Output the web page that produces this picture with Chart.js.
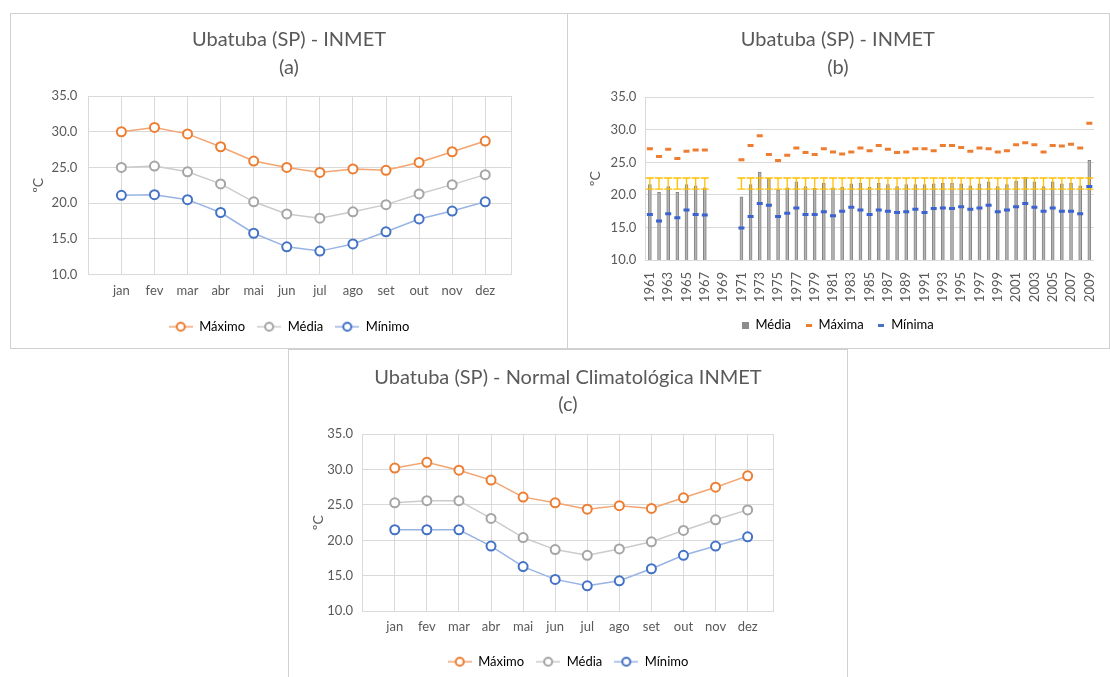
<!DOCTYPE html>
<html>
<head>
<meta charset="utf-8">
<script src="https://cdn.jsdelivr.net/npm/chart.js@4.4.1/dist/chart.umd.min.js"></script>
<style>
  html, body { margin: 0; padding: 0; background: #fff; overflow: hidden; }
  body { width: 1110px; height: 677px; position: relative; }
  .panel { position: absolute; border: 1px solid #d0d0d0; background: #fff; box-sizing: border-box; }
  canvas { display: block; }
</style>
</head>
<body>
<div class="panel" style="left:10px;top:13px;width:558px;height:336px"><canvas id="chartA" width="556" height="334"></canvas></div>
<div class="panel" style="left:567px;top:13px;width:543px;height:336px"><canvas id="chartB" width="541" height="334"></canvas></div>
<div class="panel" style="left:288px;top:349px;width:560px;height:340px"><canvas id="chartC" width="558" height="338"></canvas></div>
<script>
// months (charts a and c)
const months = ['jan', 'fev', 'mar', 'abr', 'mai', 'jun', 'jul', 'ago', 'set', 'out', 'nov', 'dez'];

// (a) Ubatuba (SP) - INMET
const maxA = [30.0, 30.6, 29.7, 27.9, 25.9, 25.0, 24.3, 24.8, 24.6, 25.7, 27.2, 28.7];
const medA = [25.0, 25.2, 24.4, 22.7, 20.2, 18.5, 17.9, 18.8, 19.8, 21.3, 22.6, 24.0];
const minA = [21.1, 21.2, 20.5, 18.7, 15.8, 13.9, 13.3, 14.3, 16.0, 17.8, 18.9, 20.2];

// (c) Normal Climatológica INMET
const maxC = [30.2, 31.0, 29.9, 28.5, 26.1, 25.3, 24.4, 24.9, 24.5, 26.0, 27.5, 29.1];
const medC = [25.3, 25.6, 25.6, 23.1, 20.4, 18.7, 17.9, 18.8, 19.8, 21.4, 22.9, 24.3];
const minC = [21.5, 21.5, 21.5, 19.2, 16.3, 14.5, 13.6, 14.3, 16.0, 17.9, 19.2, 20.5];

// (b) yearly series
const years = [1961, 1962, 1963, 1964, 1965, 1966, 1967, 1968, 1969, 1970,
  1971, 1972, 1973, 1974, 1975, 1976, 1977, 1978, 1979, 1980,
  1981, 1982, 1983, 1984, 1985, 1986, 1987, 1988, 1989, 1990,
  1991, 1992, 1993, 1994, 1995, 1996, 1997, 1998, 1999, 2000,
  2001, 2002, 2003, 2004, 2005, 2006, 2007, 2008, 2009];
const mediaB = [21.6, 20.4, 21.3, 20.4, 21.6, 21.4, 21.1, null, null, null,
  19.7, 21.6, 23.5, 22.5, 20.8, 21.1, 22.0, 21.3, 21.0, 21.8,
  21.1, 21.2, 21.7, 21.8, 21.2, 21.8, 21.6, 21.3, 21.6, 21.6,
  21.6, 21.7, 21.8, 21.8, 21.7, 21.4, 21.7, 22.0, 21.3, 21.6,
  22.1, 22.7, 22.0, 21.3, 22.0, 21.7, 21.8, 21.4, 25.3];
const maximaB = [27.1, 25.9, 27.0, 25.6, 26.7, 26.9, 26.9, null, null, null,
  25.4, 27.6, 29.1, 26.2, 25.3, 26.1, 27.2, 26.5, 26.2, 27.1,
  26.6, 26.3, 26.6, 27.2, 26.8, 27.6, 27.0, 26.5, 26.6, 27.1,
  27.1, 26.8, 27.6, 27.6, 27.3, 26.7, 27.2, 27.1, 26.6, 26.8,
  27.7, 28.0, 27.7, 26.6, 27.6, 27.5, 27.8, 27.2, 31.0];
const minimaB = [17.0, 16.0, 17.1, 16.5, 17.7, 17.0, 16.9, null, null, null,
  14.9, 16.7, 18.7, 18.4, 16.7, 17.2, 18.0, 17.0, 17.0, 17.4,
  16.8, 17.5, 18.1, 17.7, 17.0, 17.7, 17.5, 17.3, 17.4, 17.8,
  17.3, 17.9, 18.0, 17.9, 18.2, 17.8, 18.0, 18.4, 17.4, 17.7,
  18.2, 18.7, 18.1, 17.5, 18.0, 17.5, 17.5, 17.1, 21.3];
// yellow error bar range drawn on each Média bar
const errLow = 20.9;
const errHigh = 22.6;

// axis ticks
const yTicks = [10, 15, 20, 25, 30, 35];
const xTicksMonth = [0, 1, 2, 3, 4, 5, 6, 7, 8, 9, 10, 11, 12, 12.8];

const TXT = '#595959';
const GRID = '#d9d9d9';
Chart.defaults.font.family = 'Lato, sans-serif';
Chart.defaults.color = TXT;
Chart.defaults.animation = false;

// small legend symbols
function markerImg(lineColor, pointColor) {
    const c = document.createElement('canvas');
    c.width = 24; c.height = 12;
    const g = c.getContext('2d');
    g.strokeStyle = lineColor; g.lineWidth = 1.5;
    g.beginPath(); g.moveTo(0, 6); g.lineTo(24, 6); g.stroke();
    g.fillStyle = '#fff'; g.strokeStyle = pointColor; g.lineWidth = 2;
    g.beginPath(); g.arc(12, 6, 4, 0, Math.PI * 2); g.fill(); g.stroke();
    return c;
}
function boxImg(color, w, h) {
    const c = document.createElement('canvas');
    c.width = w; c.height = h;
    const g = c.getContext('2d');
    g.fillStyle = color;
    g.fillRect(0, 0, w, h);
    return c;
}

const colMax = { line: '#f3a571', point: '#ed7d31' };
const colMed = { line: '#cbcbcb', point: '#a5a5a5' };
const colMin = { line: '#98b4e4', point: '#4472c4' };

function lineSet(label, values, col) {
    return {
        label: label,
        data: values.map((v, i) => ({ x: i + 1, y: v })),
        borderColor: col.line,
        borderWidth: 1.5,
        pointRadius: 4.5,
        pointBorderWidth: 2,
        pointBorderColor: col.point,
        pointBackgroundColor: '#fff',
        tension: 0
    };
}

function monthChart(id, title, maxV, medV, minV, L) {
    const imgs = [markerImg(colMax.line, colMax.point), markerImg(colMed.line, colMed.point), markerImg(colMin.line, colMin.point)];
    new Chart(document.getElementById(id), {
        type: 'line',
        data: {
            datasets: [
                lineSet('Máximo', maxV, colMax),
                lineSet('Média', medV, colMed),
                lineSet('Mínimo', minV, colMin)
            ]
        },
        options: {
            responsive: false,
            layout: { padding: { left: 0, right: 0, top: 0, bottom: L.bottom } },
            plugins: {
                tooltip: { enabled: false },
                title: {
                    display: true,
                    text: title,
                    color: TXT,
                    font: { size: 20, weight: 'normal', lineHeight: L.titleLH + 'px' },
                    padding: { top: L.titleTop, bottom: L.titleBottom }
                },
                legend: {
                    position: 'bottom',
                    labels: {
                        usePointStyle: true,
                        pointStyleWidth: 24,
                        padding: 12,
                        color: TXT,
                        font: { size: 13 },
                        generateLabels: chart => chart.data.datasets.map((ds, i) => ({
                            text: ds.label,
                            pointStyle: imgs[i],
                            fillStyle: '#fff',
                            strokeStyle: ds.pointBorderColor,
                            lineWidth: 0,
                            hidden: false,
                            datasetIndex: i
                        }))
                    }
                }
            },
            scales: {
                x: {
                    type: 'linear',
                    min: 0,
                    max: 12.8,
                    afterBuildTicks: s => { s.ticks = xTicksMonth.map(v => ({ value: v })); },
                    afterFit: s => { s.height = L.xh; },
                    grid: { color: GRID, drawTicks: false },
                    border: { color: GRID },
                    ticks: {
                        padding: L.xpad,
                        color: TXT,
                        font: { size: 13 },
                        autoSkip: false,
                        maxRotation: 0,
                        callback: v => (Number.isInteger(v) && v >= 1 && v <= 12) ? months[v - 1] : ''
                    }
                },
                y: {
                    min: 10,
                    max: 35,
                    afterBuildTicks: s => { s.ticks = yTicks.map(v => ({ value: v })); },
                    afterFit: s => { s.width = L.yw; },
                    grid: { color: GRID, drawTicks: false },
                    border: { color: GRID },
                    ticks: {
                        padding: L.ypad,
                        color: TXT,
                        font: { size: 13 },
                        callback: v => v.toFixed(1)
                    },
                    title: {
                        display: true,
                        text: 'ºC',
                        color: TXT,
                        font: { size: 14 },
                        padding: { top: L.ytitle, bottom: 0 }
                    }
                },
                // empty right-hand space so that title and legend stay centred on the panel
                yRight: {
                    position: 'right',
                    min: 10,
                    max: 35,
                    afterFit: s => { s.width = L.right; },
                    grid: { display: false },
                    border: { display: false },
                    ticks: { display: false }
                }
            }
        }
    });
}

monthChart('chartA', ['Ubatuba (SP) - INMET', '(a)'], maxA, medA, minA,
    { right: 55.3, bottom: 4.8, titleLH: 28, titleTop: 12, titleBottom: 14, xh: 33.5, xpad: 8.5, yw: 77.3, ypad: 11, ytitle: 18.6 });

monthChart('chartC', ['Ubatuba (SP) - Normal Climatológica INMET', '(c)'], maxC, medC, minC,
    { right: 73.7, bottom: 9.8, titleLH: 27, titleTop: 14.5, titleBottom: 15.5, xh: 31.9, xpad: 8, yw: 73.7, ypad: 9.7, ytitle: 20.6 });

// (b) error bars drawn on top of the bars, under the points
const errorBars = {
    id: 'errorBars',
    afterDatasetDraw(chart, args) {
        if (args.index !== 0) return;
        const ctx = chart.ctx;
        const y = chart.scales.y;
        const yLo = y.getPixelForValue(errLow);
        const yHi = y.getPixelForValue(errHigh);
        ctx.save();
        ctx.strokeStyle = '#ffc000';
        ctx.lineWidth = 1.3;
        args.meta.data.forEach((bar, i) => {
            if (mediaB[i] == null) return;
            ctx.beginPath();
            ctx.moveTo(bar.x, yLo); ctx.lineTo(bar.x, yHi);
            ctx.moveTo(bar.x - 4, yLo); ctx.lineTo(bar.x + 4, yLo);
            ctx.moveTo(bar.x - 4, yHi); ctx.lineTo(bar.x + 4, yHi);
            ctx.stroke();
        });
        ctx.restore();
    }
};

const legendB = [boxImg('#8c8c8c', 7, 7), boxImg('#ed7d31', 6, 3), boxImg('#4472c4', 6, 3)];

new Chart(document.getElementById('chartB'), {
    type: 'bar',
    data: {
        labels: years,
        datasets: [
            {
                type: 'bar',
                label: 'Média',
                data: mediaB,
                backgroundColor: '#b3b3b3',
                borderColor: '#858585',
                borderWidth: 1,
                barThickness: 3,
                order: 2
            },
            {
                type: 'line',
                label: 'Máxima',
                data: maximaB,
                showLine: false,
                pointStyle: 'line',
                pointRadius: 3,
                pointBorderWidth: 3,
                pointBorderColor: '#ed7d31',
                borderColor: '#ed7d31',
                order: 1
            },
            {
                type: 'line',
                label: 'Mínima',
                data: minimaB,
                showLine: false,
                pointStyle: 'line',
                pointRadius: 3,
                pointBorderWidth: 3,
                pointBorderColor: '#3b62d1',
                borderColor: '#3b62d1',
                order: 1
            }
        ]
    },
    options: {
        responsive: false,
        layout: { padding: { left: 0, right: 1.3, top: 0, bottom: 6.5 } },
        plugins: {
            tooltip: { enabled: false },
            title: {
                display: true,
                text: ['Ubatuba (SP) - INMET', '(b)'],
                color: TXT,
                font: { size: 20, weight: 'normal', lineHeight: '28px' },
                padding: { top: 12, bottom: 15.3 }
            },
            legend: {
                position: 'bottom',
                labels: {
                    usePointStyle: true,
                    pointStyleWidth: 7,
                    padding: 14,
                    color: TXT,
                    font: { size: 13 },
                    generateLabels: chart => chart.data.datasets.map((ds, i) => ({
                        text: ds.label,
                        pointStyle: legendB[i],
                        fillStyle: '#fff',
                        lineWidth: 0,
                        hidden: false,
                        datasetIndex: i
                    }))
                }
            }
        },
        scales: {
            x: {
                afterFit: s => { s.height = 44.5; },
                grid: { display: false },
                border: { color: GRID },
                ticks: {
                    autoSkip: false,
                    minRotation: 90,
                    maxRotation: 90,
                    padding: 4,
                    color: TXT,
                    font: { size: 13 },
                    callback: (v, i) => i % 2 === 0 ? years[i] : ''
                }
            },
            y: {
                min: 10,
                max: 35,
                afterBuildTicks: s => { s.ticks = yTicks.map(v => ({ value: v })); },
                afterFit: s => { s.width = 77.3; },
                grid: { color: GRID, drawTicks: false },
                border: { color: GRID },
                ticks: {
                    padding: 9,
                    color: TXT,
                    font: { size: 13 },
                    callback: v => v.toFixed(1)
                },
                title: {
                    display: true,
                    text: 'ºC',
                    color: TXT,
                    font: { size: 14 },
                    padding: { top: 18.6, bottom: 0 }
                }
            }
        }
    },
    plugins: [errorBars]
});
</script>
</body>
</html>
